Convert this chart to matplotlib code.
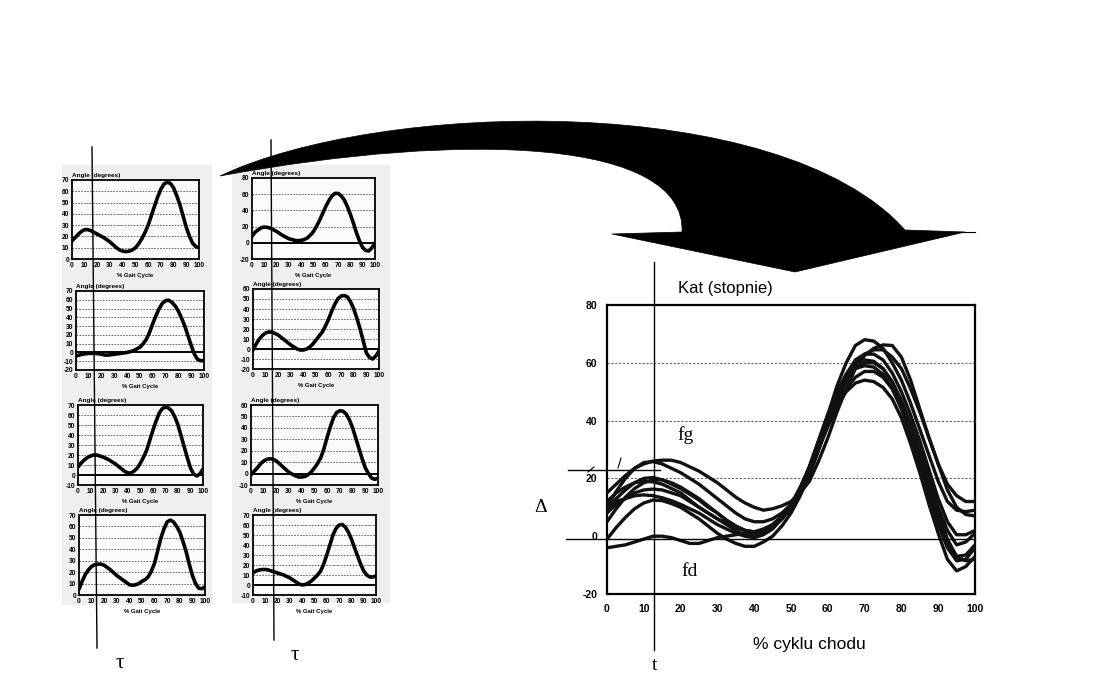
import matplotlib.pyplot as plt
from matplotlib.path import Path
from matplotlib.patches import PathPatch, Rectangle

plt.rcParams['axes.unicode_minus'] = False

W, H = 1119, 682

# % of gait cycle, read every 2.5 %
pct = [i * 2.5 for i in range(41)]

# small source charts, left column (top to bottom)
left_1 = [16, 19, 22, 24.5, 26, 26, 25, 23.5, 22, 20.5, 19, 17, 15, 12.5, 10, 8, 7, 6.5, 7, 8,
          10, 13.5, 18, 23.5, 30, 38.5, 47, 55, 62, 66.5, 68, 67, 63, 56, 48, 38, 28, 20, 14, 11, 10]
left_2 = [-4, -3, -2, -1.5, -1, -1, -1, -1.5, -2, -3, -3, -2.5, -2, -1.5, -1, -0.5, 0, 1, 2, 4,
          6, 10, 15, 23, 33, 42, 50, 56, 59, 59.5, 57, 53, 47, 39, 30, 19, 8, -2, -8, -9.5, -9]
left_3 = [8, 12, 15, 17.5, 19, 20, 20, 19, 18, 16.5, 15, 13, 11, 8.5, 6, 3.5, 2, 2, 4, 7,
          12, 18, 25, 35, 45, 54, 62, 66.5, 68, 67, 64, 58, 50, 39, 28, 17, 7, 1, -1, 1, 6]
left_4 = [5, 12, 18, 22, 25, 26.5, 27, 27, 26, 24, 22, 19.5, 17, 15, 13, 11, 9, 8.5, 9, 10,
          12, 13.5, 16, 21, 28, 39, 50, 58, 64, 65.5, 64, 60, 55, 47, 38, 27, 17, 10, 6, 5.5, 7]

# small source charts, right column (top to bottom)
right_1 = [8, 13, 16, 18.5, 19.5, 19, 18, 16, 14, 11.5, 9, 7, 5, 4, 3, 2.5, 3, 4, 6, 9.5,
           14, 20.5, 28, 36.5, 45, 52, 58, 61, 61, 58, 53, 45, 35, 24, 12, 2, -6, -9.5, -10, -6, 0]
right_2 = [-1, 5, 10, 13.5, 16, 17, 17, 15.5, 14, 11.5, 9, 6.5, 4, 2, 0, -1, -1, 0, 2, 5,
           9, 13, 17, 23, 30, 38, 45, 50.5, 53, 53.5, 52, 47, 40, 30.5, 20, 8, -4, -8.5, -10, -7, -2]
right_3 = [-1, 2, 5, 8.5, 11, 12.5, 13, 12.5, 11, 8.5, 6, 3.5, 1, -0.5, -2, -3, -3, -2.5, -1, 1.5,
           5, 9, 14, 22, 32, 41, 49, 53.5, 55, 54.5, 52, 47, 40, 31, 22, 13, 5, 0, -4, -5, -4]
right_4 = [12, 14, 15, 15.5, 15.5, 15, 14, 13, 12, 11, 10, 8.5, 7, 5, 3, 1, 0, 0.5, 2, 4,
           7, 10, 14, 21, 30, 40, 50, 56.5, 60, 60.5, 58, 53, 46, 37.5, 29, 21, 14, 10, 8, 8, 9]

# combined chart
big_1 = [15, 18, 21, 23.5, 25, 26, 26.3, 26.3, 25.5, 24, 22.5, 20.5, 18.5, 16, 13.5, 11.5, 10, 9, 9.5, 10.5,
         12, 15, 19, 26, 34, 43, 51, 58, 62.5, 65, 66.2, 66, 62, 54, 44, 34, 25, 18, 14, 12, 12]
big_2 = [10, 15.5, 20, 23.5, 25.5, 25.8, 25, 23.5, 22, 20, 18, 15.5, 13, 10.5, 8, 6, 5, 5, 6, 8,
         11, 16, 24, 33, 42, 52, 60, 66, 68, 67.5, 65, 60, 54, 46, 37, 28, 19, 12, 9, 8.5, 9]
big_3 = [9, 13, 16, 18.5, 20, 20.3, 19.5, 18, 16.5, 14.5, 12.5, 10, 8, 5.5, 3.5, 2, 1.5, 2, 3.5, 6,
         10, 15, 22, 31, 40, 48, 55, 60, 63, 64.5, 64.5, 62, 58, 51, 43, 34, 25, 16, 10, 7.5, 7]
big_4 = [12, 15, 17, 18.5, 19, 18.8, 18, 16.5, 15, 12.5, 10, 8, 6, 4.5, 3, 2, 1, 2, 4, 7,
         11, 17, 24, 33, 42, 50, 56, 59.5, 61, 60.5, 58, 53.5, 47, 39, 30, 20, 10, 2, -3, -2, 1]
big_5 = [8, 11, 13, 15, 16, 16.3, 16, 15, 14, 12, 10, 8, 6, 4, 2, 0.5, 0, 1, 3, 6,
         10, 16, 24, 33, 42, 49, 54.5, 58, 59, 58.5, 56, 51, 44, 35, 25, 14, 4, -4, -8.5, -8, -4]
big_6 = [10, 12, 13, 14, 14.3, 14, 13.3, 12.3, 11, 9.5, 8, 6, 4, 2.5, 1, 0, -0.5, 0.5, 2.5, 6,
         10, 16, 23, 31, 38, 45, 50, 53, 54, 53.5, 51.5, 47.5, 41, 32, 22, 11, 1, -8, -12, -10.5, -7]
big_7 = [-1, 3, 6.5, 9.5, 11.5, 12.5, 12.3, 11.3, 10, 8, 6, 3.5, 1, -1, -2.5, -3.5, -3.5, -2, 0, 3.5,
         8, 14, 21, 30, 39, 47, 53.5, 58, 60, 60, 58, 53, 46, 37, 27, 16, 6, -2, -7, -6.5, -3]
big_8 = [-4, -3.5, -3, -2, -1, 0, 0, -0.5, -1.5, -2.5, -2.5, -1.5, -0.5, 0, 0.5, 1, 1.5, 2.5, 4, 6.5,
         10, 15, 22, 30, 38, 45, 51, 55, 57, 57, 55, 51, 45, 37, 28, 18, 8, -1, -7, -8.5, -8]
big_9 = [5, 9.5, 13.5, 16.5, 18.5, 19.5, 19.5, 18.5, 17, 15, 13, 10.5, 8, 5.5, 3.5, 2, 1.5, 2, 3.5, 6,
         9.5, 14.5, 21, 30, 40, 49, 56, 61, 63, 63, 61, 56.5, 50, 42, 33, 23, 13, 5, 0.5, 0.5, 2]

fig = plt.figure(figsize=(W / 100, H / 100), dpi=100)
fig.patch.set_facecolor('white')


def px_axes(left, top, right, bottom):
    return fig.add_axes([left / W, 1 - bottom / H, (right - left) / W, (bottom - top) / H])


# faint scanned-paper background behind the small charts
bg = fig.add_axes([0, 0, 1, 1])
bg.set_xlim(0, W)
bg.set_ylim(H, 0)
bg.axis('off')
bg.add_patch(Rectangle((62, 165), 150, 440, color='#efefef', lw=0))
bg.add_patch(Rectangle((232, 165), 158, 438, color='#efefef', lw=0))

small_font = dict(family='Liberation Sans', weight='bold')

# (series, box left, top, right, bottom, ylow, yhigh, ystep)
small_panels = [
    (left_1, 72, 180, 199, 259, 0, 70, 10),
    (left_2, 76, 291, 204, 370, -20, 70, 10),
    (left_3, 78, 405, 203, 485, -10, 70, 10),
    (left_4, 79, 515, 205, 595, 0, 70, 10),
    (right_1, 252, 178, 375, 259, -20, 80, 20),
    (right_2, 253, 289, 379, 369, -20, 60, 10),
    (right_3, 251, 405, 378, 485, -10, 60, 10),
    (right_4, 253, 515, 376, 595, -10, 70, 10),
]

for vals, l, t, r, b, lo, hi, step in small_panels:
    ax = px_axes(l, t, r, b)
    ax.set_facecolor('#fafafa')
    ticks = list(range(lo, hi + 1, step))
    for yv in ticks[1:-1]:
        if yv == 0:
            ax.axhline(0, color='black', lw=1.4, zorder=2)
        else:
            ax.axhline(yv, color='#555555', lw=0.6, ls=(0, (2, 1.5)), zorder=1)
    ax.plot(pct, vals, color='black', lw=2.6, solid_capstyle='round',
            solid_joinstyle='round', zorder=3)
    ax.set_xlim(0, 100)
    ax.set_ylim(lo, hi)
    ax.set_xticks(range(0, 101, 10))
    ax.set_yticks(ticks)
    ax.tick_params(length=0, pad=2, labelsize=4.8)
    for lab in ax.get_xticklabels() + ax.get_yticklabels():
        lab.set_fontproperties(dict(small_font, size=4.8))
    for sp in ax.spines.values():
        sp.set_linewidth(1.3)
    ax.text(0, 1.02, 'Angle (degrees)', transform=ax.transAxes, fontsize=4.6,
            ha='left', va='bottom', **small_font)
    ax.set_xlabel('% Gait Cycle', fontsize=4.3, labelpad=3, **small_font)

# combined chart
ax = px_axes(607, 305, 975, 594)
ax.set_facecolor('none')
for yv in (20, 40, 60):
    ax.axhline(yv, color='#666666', lw=0.8, ls=(0, (2, 1.5)), zorder=1)
for s in (big_1, big_2, big_3, big_4, big_5, big_6, big_7, big_8, big_9):
    ax.plot(pct, s, color='#111111', lw=2.4, solid_capstyle='round',
            solid_joinstyle='round', zorder=3)
ax.set_xlim(0, 100)
ax.set_ylim(-20, 80)
ax.set_xticks(range(0, 101, 10))
ax.set_yticks(range(-20, 81, 20))
ax.tick_params(length=0, pad=7, labelsize=7.5)
for lab in ax.get_xticklabels() + ax.get_yticklabels():
    lab.set_fontproperties(dict(family='Liberation Sans', weight='bold', size=7.5))
for sp in ax.spines.values():
    sp.set_linewidth(1.6)

# overlay for the arrow, guide lines and annotations
ov = fig.add_axes([0, 0, 1, 1])
ov.set_xlim(0, W)
ov.set_ylim(H, 0)
ov.axis('off')
ov.patch.set_alpha(0)

arrow_verts = [(220, 176), (380, 100), (780, 90), (905, 230),
               (965, 232), (795, 272), (612, 234), (682, 232),
               (686, 140), (470, 130), (220, 176), (220, 176)]
arrow_codes = [Path.MOVETO, Path.CURVE4, Path.CURVE4, Path.CURVE4,
               Path.LINETO, Path.LINETO, Path.LINETO, Path.LINETO,
               Path.CURVE4, Path.CURVE4, Path.CURVE4, Path.CLOSEPOLY]
ov.add_patch(PathPatch(Path(arrow_verts, arrow_codes), facecolor='black',
                       edgecolor='black', lw=0.5))
ov.plot([960, 975], [232, 232], color='black', lw=0.8)

# vertical marker lines
ov.plot([92, 97], [147, 648], color='black', lw=1.0)
ov.plot([271, 274], [140, 640], color='black', lw=1.0)
ov.plot([654, 654], [262, 650], color='black', lw=1.0)

# horizontal guide lines at the combined chart
ov.plot([568, 660], [470, 470], color='black', lw=1.0)
ov.plot([566, 975], [539, 539], color='black', lw=1.0)
ov.plot([618, 621], [468, 458], color='black', lw=0.8)
ov.plot([588, 594], [472, 467], color='black', lw=0.8)

serif = dict(family='Liberation Serif', color='black')
ov.text(120, 663, 'τ', fontsize=15, ha='center', va='center', **serif)
ov.text(295, 656, 'τ', fontsize=15, ha='center', va='center', **serif)
ov.text(655, 666, 't', fontsize=14, ha='center', va='center', **serif)
ov.text(686, 435, 'fg', fontsize=14, ha='center', va='center', **serif)
ov.text(690, 572, 'fd', fontsize=14, ha='center', va='center', **serif)
ov.text(541, 508, 'Δ', fontsize=14, ha='center', va='center', **serif)

ov.text(725, 288, 'Kat (stopnie)', fontsize=12, ha='center', va='center',
        family='Liberation Sans')
ov.text(809, 645, '% cyklu chodu', fontsize=12.5, ha='center', va='center',
        family='Liberation Sans')

fig.savefig('out.png', dpi=100, facecolor='white')
